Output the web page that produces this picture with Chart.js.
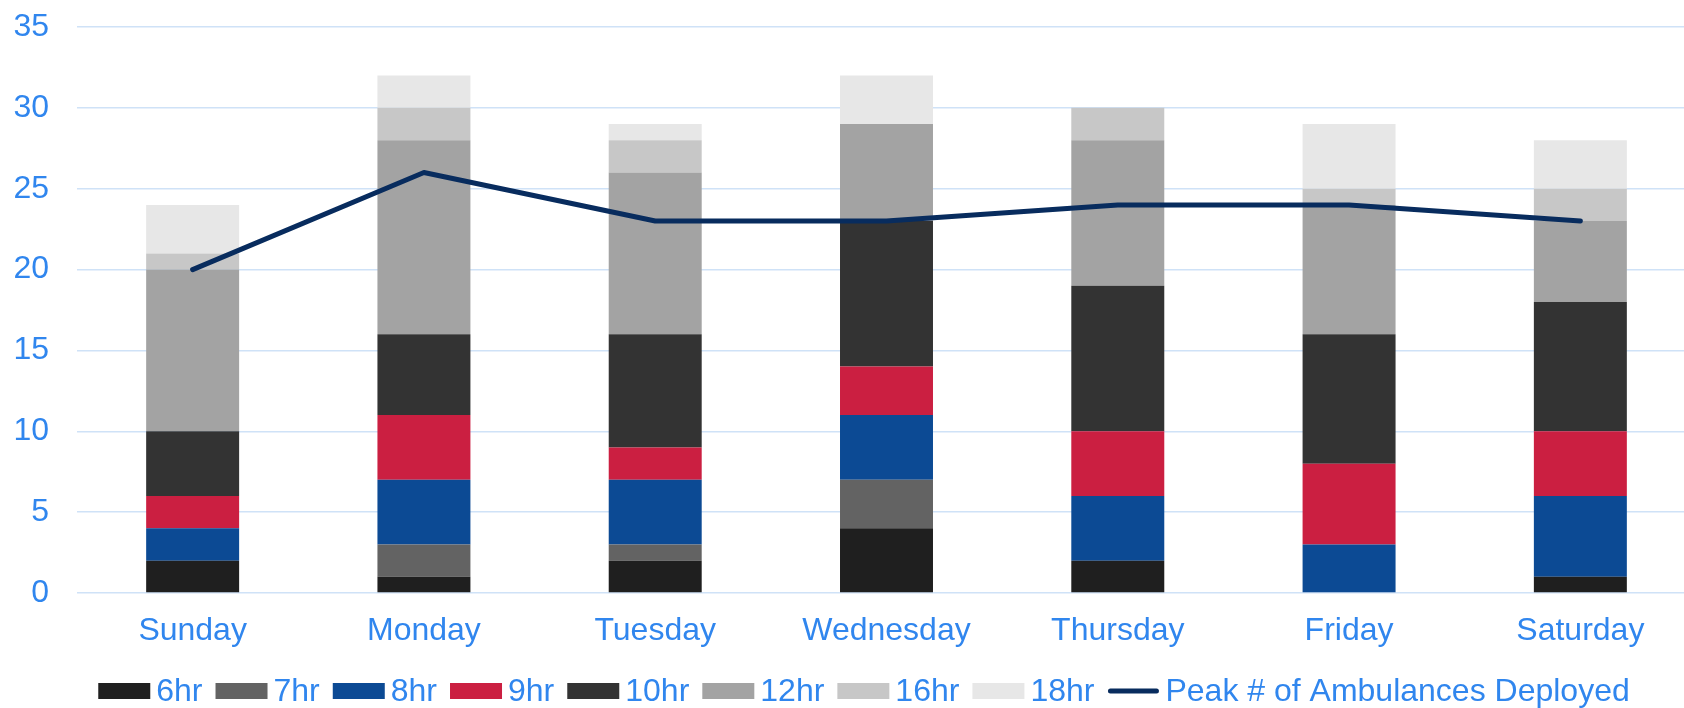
<!DOCTYPE html>
<html>
<head>
<meta charset="utf-8">
<script src="https://cdn.jsdelivr.net/npm/chart.js@4/dist/chart.umd.min.js"></script>
<style>
  html, body { margin: 0; padding: 0; background: #fff; overflow: hidden; }
  #wrap { width: 1684px; height: 708px; overflow: hidden; position: relative; }
  canvas { display: block; }
</style>
</head>
<body>
<div id="wrap"><canvas id="c" width="1700" height="708"></canvas></div>
<script>
const categories = ['Sunday', 'Monday', 'Tuesday', 'Wednesday', 'Thursday', 'Friday', 'Saturday'];
const seriesNames = ['6hr', '7hr', '8hr', '9hr', '10hr', '12hr', '16hr', '18hr'];
const hr6  = [2, 1, 2, 4, 2, 0, 1];
const hr7  = [0, 2, 1, 3, 0, 0, 0];
const hr8  = [2, 4, 4, 4, 4, 3, 5];
const hr9  = [2, 4, 2, 3, 4, 5, 4];
const hr10 = [4, 5, 7, 9, 9, 8, 8];
const hr12 = [10, 12, 10, 6, 9, 8, 5];
const hr16 = [1, 2, 2, 0, 2, 1, 2];
const hr18 = [3, 2, 1, 3, 0, 4, 3];
const peakName = 'Peak # of Ambulances Deployed';
const peak = [20, 26, 23, 23, 24, 24, 23];
const yTicks = [0, 5, 10, 15, 20, 25, 30, 35];

const seriesValues = [hr6, hr7, hr8, hr9, hr10, hr12, hr16, hr18];
const seriesColors = ['#1F1F1F', '#636363', '#0C4A94', '#CB1F41', '#333333', '#A3A3A3', '#C7C7C7', '#E7E7E7'];
const lineColor = '#082C5E';
const textColor = '#3086EE';
const FONT = '"Liberation Sans", Arial, sans-serif';
const FS = 32;

const datasets = seriesNames.map((n, i) => ({
  type: 'bar',
  label: n,
  data: seriesValues[i],
  backgroundColor: seriesColors[i],
  borderWidth: 0,
  stack: 's',
  order: 1,
  categoryPercentage: 1.0,
  barPercentage: 0.402
}));
datasets.push({
  type: 'line',
  label: peakName,
  data: peak,
  borderColor: lineColor,
  backgroundColor: lineColor,
  borderWidth: 5,
  pointRadius: 0,
  pointHoverRadius: 0,
  fill: false,
  tension: 0,
  borderCapStyle: 'round',
  borderJoinStyle: 'round',
  order: 0
});

const legendPlugin = {
  id: 'customLegend',
  afterDraw(chart) {
    const ctx = chart.ctx;
    ctx.save();
    ctx.font = FS + 'px ' + FONT;
    const items = chart.data.datasets.map(d => ({ label: d.label, color: d.type === 'line' ? d.borderColor : d.backgroundColor, line: d.type === 'line' }));
    const boxW = 52, boxH = 16, gap = 6, spacing = 13;
    let total = 0;
    items.forEach((it, i) => {
      it.tw = ctx.measureText(it.label).width;
      total += boxW + gap + it.tw + (i < items.length - 1 ? spacing : 0);
    });
    let x = 864 - total / 2;
    const cy = 691;
    ctx.textBaseline = 'middle';
    ctx.textAlign = 'left';
    items.forEach(it => {
      if (it.line) {
        ctx.strokeStyle = it.color;
        ctx.lineWidth = 5;
        ctx.lineCap = 'round';
        ctx.beginPath();
        ctx.moveTo(x + 3, cy);
        ctx.lineTo(x + boxW - 3, cy);
        ctx.stroke();
      } else {
        ctx.fillStyle = it.color;
        ctx.fillRect(x, cy - boxH / 2, boxW, boxH);
      }
      x += boxW + gap;
      ctx.fillStyle = textColor;
      ctx.fillText(it.label, x, cy + 1);
      x += it.tw + spacing;
    });
    ctx.restore();
  }
};

new Chart(document.getElementById('c'), {
  type: 'bar',
  data: { labels: categories, datasets },
  options: {
    responsive: false,
    animation: false,
    devicePixelRatio: 1,
    layout: { padding: { top: 27, right: 4, left: 0, bottom: 0 } },
    plugins: { legend: { display: false }, tooltip: { enabled: false } },
    scales: {
      x: {
        stacked: true,
        offset: true,
        grid: { display: false, drawTicks: false },
        border: { display: false },
        ticks: { color: textColor, font: { family: FONT, size: FS }, padding: 19, maxRotation: 0 },
        afterFit(scale) { scale.height = 115; scale.paddingLeft = 0; scale.paddingRight = 0; }
      },
      y: {
        stacked: true,
        min: 0,
        max: 35,
        afterBuildTicks(scale) { scale.ticks = yTicks.map(v => ({ value: v })); },
        grid: { color: '#CFE2F7', lineWidth: 1.5, drawTicks: false },
        border: { display: false },
        ticks: { color: textColor, font: { family: FONT, size: FS }, padding: 28 },
        afterFit(scale) { scale.width = 77; scale.paddingTop = 0; scale.paddingBottom = 0; }
      }
    }
  },
  plugins: [legendPlugin]
});
</script>
</body>
</html>
